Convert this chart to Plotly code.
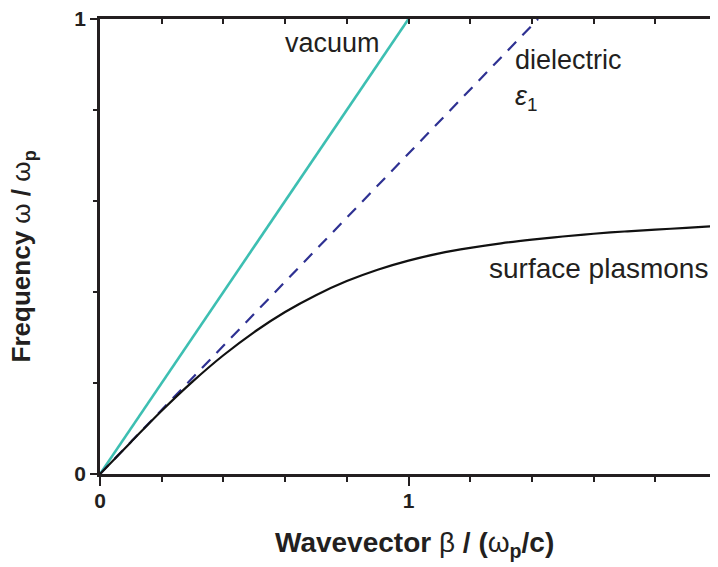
import plotly.graph_objects as go

# ---- data ----
vac_x = [0.0, 1.0]
vac_y = [0.0, 1.0]

diel_x = [0.0, 1.42]
diel_y = [0.0, 1.0]

spp_x = [0.0, 0.1, 0.2, 0.3, 0.4, 0.5, 0.6, 0.7, 0.8, 0.9, 1.0,
         1.1, 1.2, 1.3, 1.4, 1.5, 1.6, 1.7, 1.8, 1.9, 2.0]
spp_y = [0.0, 0.070, 0.139, 0.203, 0.261, 0.312, 0.356, 0.393, 0.424, 0.449, 0.469,
         0.485, 0.497, 0.507, 0.515, 0.522, 0.528, 0.533, 0.537, 0.541, 0.545]

x_ticks = [0, 1, 2]
y_ticks = [0, 1]

INK = "#231f20"
FONT = "Liberation Sans"

fig = go.Figure()
fig.add_trace(go.Scatter(x=vac_x, y=vac_y, mode="lines",
                         line=dict(color="#3dbfb2", width=2.6), showlegend=False))
fig.add_trace(go.Scatter(x=diel_x, y=diel_y, mode="lines",
                         line=dict(color="#2e3192", width=2.2, dash="12px,9px"),
                         showlegend=False))
fig.add_trace(go.Scatter(x=spp_x, y=spp_y, mode="lines", line_shape="spline",
                         line=dict(color="#111111", width=2.2), showlegend=False))
# dummy trace for mirrored axes
fig.add_trace(go.Scatter(x=[None], y=[None], xaxis="x2", yaxis="y2", showlegend=False))

axis_common = dict(showline=True, linecolor=INK, linewidth=2.6, showgrid=False,
                   zeroline=False, tickcolor=INK, tickwidth=2.4, automargin=False)

# page body has an 8px default margin, so the figure is sized/offset to compensate
fig.update_layout(
    width=710, height=559,
    margin=dict(l=92, r=1, t=11, b=93, autoexpand=False),
    plot_bgcolor="white", paper_bgcolor="white",
    xaxis=dict(range=[0, 2], tickvals=x_ticks, ticktext=[str(v) for v in x_ticks],
               ticks="outside", ticklen=9, ticklabeloverflow="allow",
               ticklabelstandoff=-3,
               minor=dict(dtick=0.2, tick0=0, ticks="outside", ticklen=5,
                          tickcolor=INK, tickwidth=2.4),
               tickfont=dict(family=FONT, size=21, color=INK, weight="bold"),
               **axis_common),
    yaxis=dict(range=[0, 1], tickvals=y_ticks, ticktext=[str(v) for v in y_ticks],
               ticks="outside", ticklen=7, ticklabeloverflow="allow",
               minor=dict(dtick=0.2, tick0=0, ticks="outside", ticklen=4,
                          tickcolor=INK, tickwidth=2.4),
               tickfont=dict(family=FONT, size=21, color=INK, weight="bold"),
               **axis_common),
    xaxis2=dict(range=[0, 2], overlaying="x", side="top", anchor="y",
                tickvals=[0.2, 0.4, 0.6, 0.8, 1.0, 1.2, 1.4, 1.6, 1.8],
                ticks="inside", ticklen=5, showticklabels=False, **axis_common),
    yaxis2=dict(range=[0, 1], overlaying="y", side="right", anchor="x",
                tickvals=[0.2, 0.4, 0.6, 0.8],
                ticks="inside", ticklen=5, showticklabels=False, **axis_common),
)

label_font = dict(family=FONT, size=27, color=INK)
fig.add_annotation(x=0.754, y=0.948, xref="x", yref="y", text="vacuum",
                   showarrow=False, font=label_font, xanchor="center", yanchor="middle")
fig.add_annotation(x=1.339, y=0.909, xref="x", yref="y", text="dielectric",
                   showarrow=False, font=label_font, xanchor="left", yanchor="middle")
fig.add_annotation(x=1.339, y=0.826, xref="x", yref="y", text="<i>ε</i><sub>1</sub>",
                   showarrow=False, font=label_font, xanchor="left", yanchor="middle")
fig.add_annotation(x=1.2545, y=0.451, xref="x", yref="y", text="surface plasmons",
                   showarrow=False, font=dict(family=FONT, size=28, color=INK),
                   xanchor="left", yanchor="middle")

fig.add_annotation(x=0.509, y=-0.156, xref="paper", yref="paper",
                   text="<b>Wavevector </b>β<b> / (</b>ω<b><sub>p</sub>/c)</b>",
                   showarrow=False, font=dict(family=FONT, size=28, color=INK),
                   xanchor="center", yanchor="middle")
fig.add_annotation(x=-0.125, y=0.478, xref="paper", yref="paper",
                   text="<b>Frequency </b>ω<b> / </b>ω<b><sub>p</sub></b>", textangle=-90,
                   showarrow=False, font=dict(family=FONT, size=26, color=INK),
                   xanchor="center", yanchor="middle")

fig.write_html("out.html")
